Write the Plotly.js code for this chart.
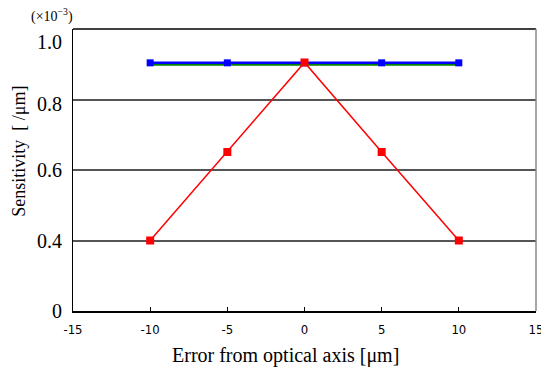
<!DOCTYPE html>
<html><head><meta charset="utf-8">
<script src="https://cdn.plot.ly/plotly-3.0.1.min.js"></script>
<style>body{margin:0;background:#fff}#chart{width:541px;height:372px}</style>
</head><body><div id="chart"></div>
<script>
const xValues = [-10, -5, 0, 5, 10];
const greenSeries = [0.900, 0.900, 0.900, 0.900, 0.900];
const blueSeries = [0.904, 0.904, 0.904, 0.904, 0.904];
const redSeries = [0.400, 0.651, 0.905, 0.651, 0.400];
const yGridVals = [0.2, 0.4, 0.6, 0.8, 1.0];
const yLabelVals = [0.2, 0.4, 0.6, 0.787, 0.962];
const yTickText = ["0", "0.4", "0.6", "0.8", "1.0"];
const xTickVals = [-15, -10, -5, 0, 5, 10, 15];
const xTickText = ["-15", "-10", "-5", "0", "5", "10", "15"];

const serif = '"Liberation Serif", "Times New Roman", Times, serif';
const narrow = '"Liberation Sans Narrow", "DejaVu Sans Condensed", sans-serif';
const traces = [
  {x: xValues, y: greenSeries, mode: 'lines', line: {color: '#008000', width: 3}, hoverinfo: 'skip'},
  {x: xValues, y: blueSeries, mode: 'lines+markers', line: {color: '#0000ff', width: 2.5},
   marker: {symbol: 'square', color: '#0000ff', size: 7}},
  {x: xValues, y: redSeries, mode: 'lines+markers', line: {color: '#ff0000', width: 1.5},
   marker: {symbol: 'square', color: '#ff0000', size: 8}},
  {x: [null], y: [null], yaxis: 'y2', showlegend: false, hoverinfo: 'skip'}
];

const layout = {
  width: 541, height: 372,
  margin: {l: 73, r: 5, t: 29, b: 61},
  paper_bgcolor: '#fff', plot_bgcolor: '#fff',
  showlegend: false,
  xaxis: {
    range: [-15, 15.001], tickvals: xTickVals, ticktext: xTickText, ticks: 'inside', ticklen: 4, tickcolor: '#000',
    showgrid: false, zeroline: false, showline: true, linecolor: '#000', linewidth: 1.5,
    tickfont: {family: narrow, size: 13, color: '#000'},
    ticklabelstandoff: 6, ticklabeloverflow: 'allow'
  },
  yaxis: {
    range: [0.2, 1.0], tickvals: yGridVals, ticks: '', showticklabels: false,
    showgrid: true, gridcolor: '#555', gridwidth: 2, zeroline: false,
    showline: true, linecolor: '#000', linewidth: 1.5
  },
  yaxis2: {
    overlaying: 'y', side: 'left', range: [0.2, 1.0], tickvals: yLabelVals, ticktext: yTickText,
    ticks: '', showgrid: false, zeroline: false, showline: false,
    tickfont: {family: serif, size: 20, color: '#000'}, ticklabelstandoff: 10
  },
  shapes: [
    {type: 'line', xref: 'paper', yref: 'paper', x0: 0, x1: 1, y0: 1, y1: 1, line: {color: '#000', width: 1.5}},
    {type: 'line', xref: 'paper', yref: 'paper', x0: 1, x1: 1, y0: 0, y1: 1, line: {color: '#888', width: 1.5}}
  ],
  annotations: [
    {xref: 'paper', yref: 'paper', x: -0.045, y: 1.0, xanchor: 'center', yanchor: 'bottom', yshift: 2, showarrow: false,
     text: '(×10<sup>−3</sup>)', font: {family: serif, size: 14, color: '#000'}},
    {xref: 'paper', yref: 'paper', x: 0.458, y: 0, yanchor: 'middle', xanchor: 'center', yshift: -44, showarrow: false,
     text: 'Error from optical axis [μm]', font: {family: serif, size: 20, color: '#000'}},
    {xref: 'paper', yref: 'paper', x: 0, xshift: -54, y: 0.565, xanchor: 'center', yanchor: 'middle', textangle: -90, showarrow: false,
     text: 'Sensitivity  [ /μm]', font: {family: serif, size: 18, color: '#000'}}
  ]
};
Plotly.newPlot('chart', traces, layout, {displayModeBar: false, staticPlot: true});
</script></body></html>
